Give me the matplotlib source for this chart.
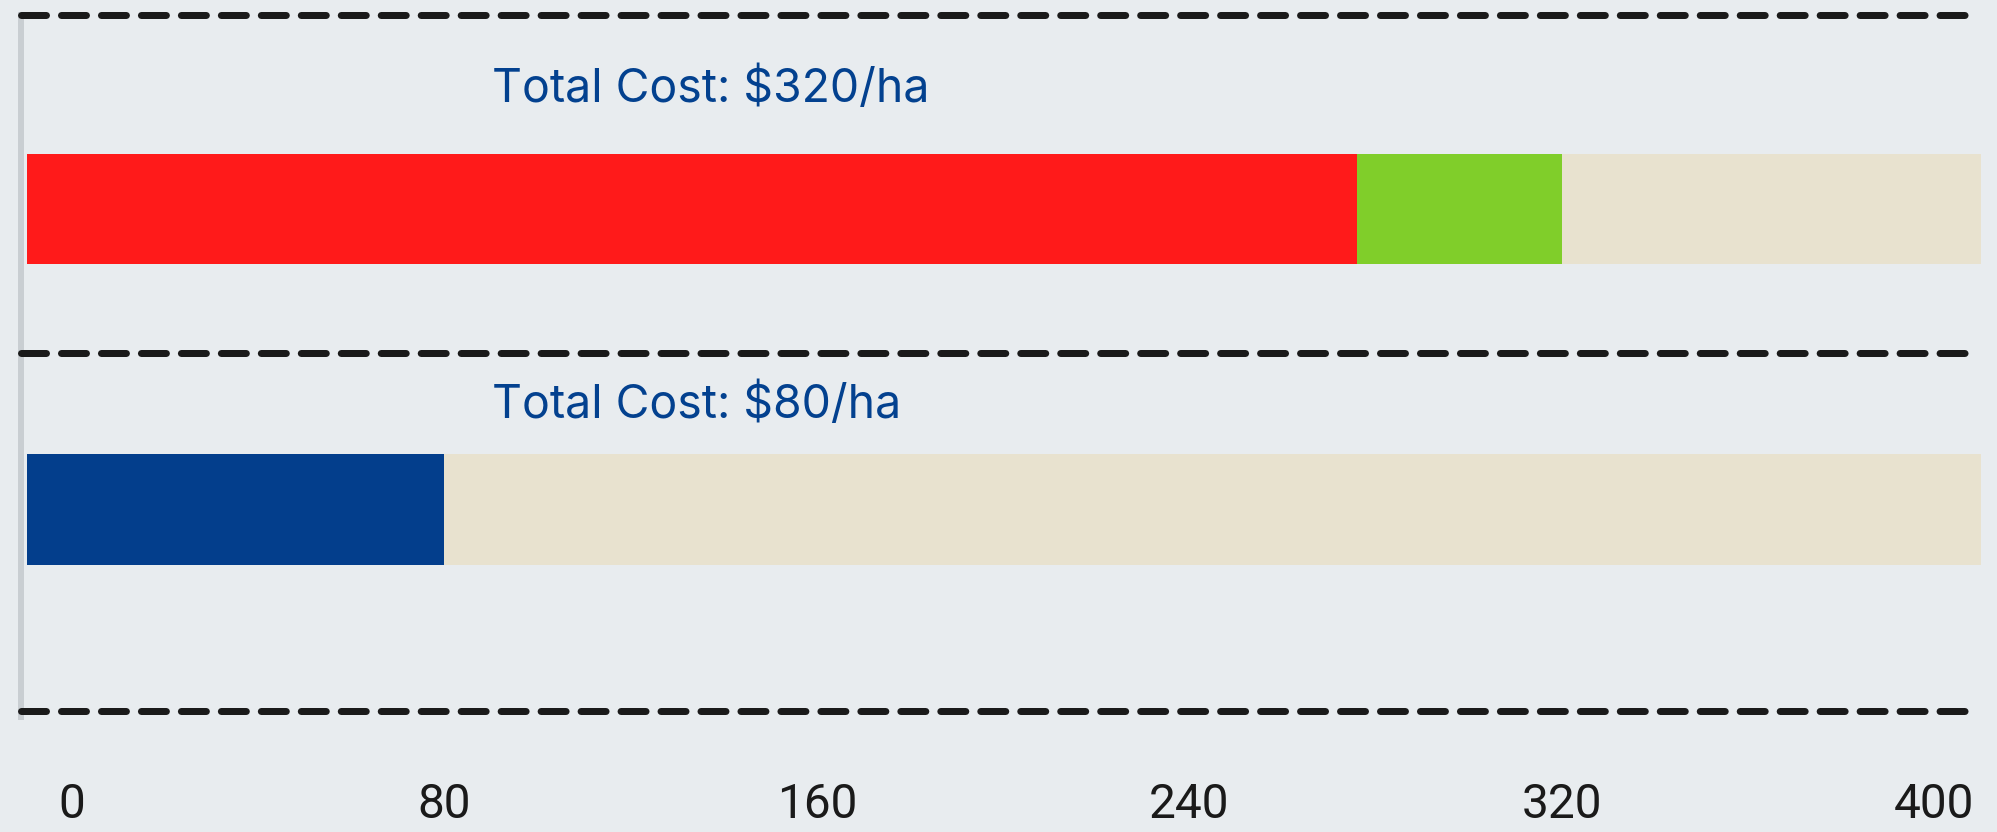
import matplotlib
matplotlib.use('Agg')
import matplotlib.pyplot as plt

# ─── Data ───
rows = [0, 1]
segment_names = ['Chemical', 'Biological', 'Drone']
chem_values = [276, 0]
bio_values = [44, 0]
drone_values = [0, 80]
total_costs = [320, 80]
tick_values = [0, 80, 160, 240, 320, 400]

# ─── Style ───
BG = '#e8ecef'
TRACK = '#e8e2cf'
SEG_COLORS = ['#ff1a1a', '#80ce2a', '#033e8c']
TEXT_BLUE = '#03418f'
DARK = '#1a1a1a'
SPINE = '#c9ced2'

XLIM = (-10.96, 410.1)
YLIM = (1.6905, -0.6456)
TRACK_START = -9.67
BAR_H = 0.369
SEPARATORS = [-0.6456, 0.479, 1.6705]
LABEL_OFFSETS = [0.356, 0.305]

plt.rcParams['font.family'] = ['Roboto', 'DejaVu Sans']

fig = plt.figure(figsize=(19.97, 8.32), dpi=100)
fig.patch.set_facecolor(BG)
ax = fig.add_axes([21 / 1997, 115 / 832, 1960 / 1997, 702 / 832])
ax.set_facecolor(BG)
ax.set_xlim(*XLIM)
ax.set_ylim(*YLIM)

# background tracks
ax.barh(rows, [XLIM[1] - TRACK_START] * len(rows), left=TRACK_START,
        height=BAR_H, color=TRACK, linewidth=0, zorder=1)

# stacked cost segments
lefts = [TRACK_START] * len(rows)
ends = [0.0] * len(rows)
for name, vals, color in zip(segment_names, [chem_values, bio_values, drone_values], SEG_COLORS):
    for i, v in enumerate(vals):
        if v <= 0:
            continue
        start = lefts[i]
        end = ends[i] + v
        ax.barh(rows[i], end - start, left=start, height=BAR_H,
                color=color, linewidth=0, zorder=2)
        lefts[i] = end
        ends[i] = end

# total cost labels
for r, cost, off in zip(rows, total_costs, LABEL_OFFSETS):
    ax.text(0.2403, r - off, f'Total Cost: ${cost}/ha',
            transform=ax.get_yaxis_transform(), ha='left', va='baseline',
            fontsize=33.4, color=TEXT_BLUE, family=['Inter', 'DejaVu Sans'])

# dashed separators
for y in SEPARATORS:
    ax.axhline(y, xmin=0, xmax=0.993, color=DARK, linewidth=5.04,
               linestyle=(0, (3.57, 2.14)), dash_capstyle='round',
               clip_on=False, zorder=3)

# axes decoration
for s in ['top', 'right', 'bottom']:
    ax.spines[s].set_visible(False)
ax.spines['left'].set_color(SPINE)
ax.spines['left'].set_linewidth(4.32)
ax.set_yticks([])
ax.set_xticks(tick_values)
ax.set_xticklabels([str(t) for t in tick_values])
ax.tick_params(axis='x', length=0, pad=47, labelsize=34.4, labelcolor=DARK)

plt.savefig('out.png', dpi=100, facecolor=BG)
plt.close()
